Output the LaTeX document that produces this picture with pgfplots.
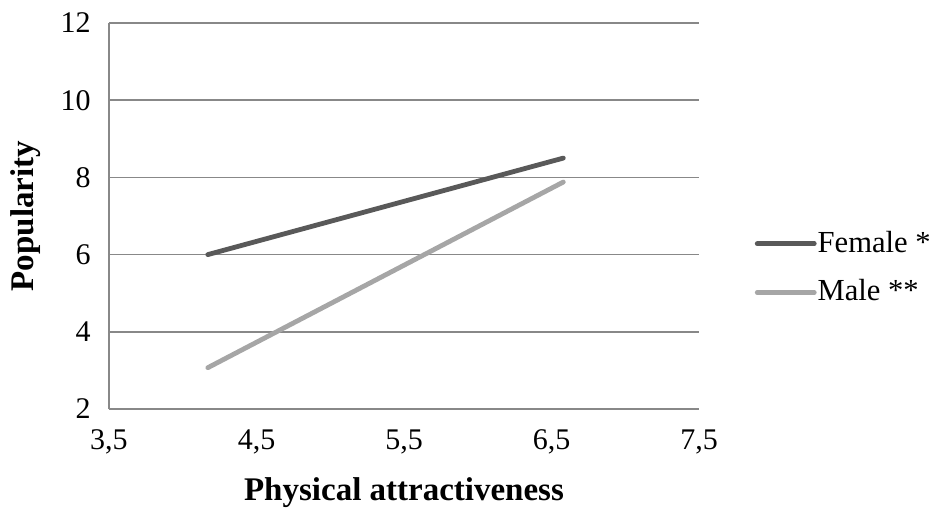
\documentclass[border=0pt]{standalone}
\usepackage{fontspec}
\setmainfont{Liberation Serif}
\usepackage{pgfplots}
\pgfplotsset{compat=1.18}
\definecolor{gridc}{HTML}{888888}
\definecolor{femc}{HTML}{595959}
\definecolor{malec}{HTML}{A6A6A6}
\begin{document}
\fontsize{15bp}{18bp}\selectfont
\begin{tikzpicture}
\path[use as bounding box] (-54.5bp,-49.5bp) rectangle (413.5bp,204.5bp);
\begin{axis}[
  at={(0,0)}, anchor=south west,
  scale only axis, width=295bp, height=193bp,
  xmin=3.5, xmax=7.5, ymin=2, ymax=12,
  xtick={3.5,4.5,5.5,6.5,7.5},
  ytick={2,4,6,8,10,12},
  /pgf/number format/assume math mode=true,
  xticklabel style={/pgf/number format/.cd, use comma, fixed, fixed zerofill, precision=1},
  yticklabel style={/pgf/number format/.cd, fixed, precision=0},
  tick style={draw=none},
  ymajorgrids, grid style={gridc, line width=0.8bp},
  axis x line*=bottom, axis y line*=left,
  axis line style={gridc, line width=0.8bp, -},
  tick label style={font=\fontsize{15bp}{18bp}\selectfont},
  xticklabel shift=5bp, yticklabel shift=4bp,
  xlabel={\textbf{Physical attractiveness}},
  ylabel={\textbf{Popularity}},
  xlabel style={yshift=-1.5bp},
  label style={font=\fontsize{16.5bp}{19bp}\selectfont},
  legend style={draw=none, at={(1.094,0.365)}, anchor=west, font=\fontsize{15.3bp}{18bp}\selectfont,
    row sep=10.5bp, inner sep=0pt, nodes={inner sep=0.5bp}},
  legend cell align=left,
  legend image code/.code={\draw[#1] (0bp,0bp) -- (28.5bp,0bp);},
]
\addplot[femc, line width=2.4bp, line cap=round] coordinates {(4.17,6.0) (6.58,8.5)};
\addlegendentry{Female *}
\addplot[malec, line width=2.4bp, line cap=round] coordinates {(4.17,3.07) (6.58,7.88)};
\addlegendentry{Male **}
\end{axis}
\end{tikzpicture}
\end{document}
